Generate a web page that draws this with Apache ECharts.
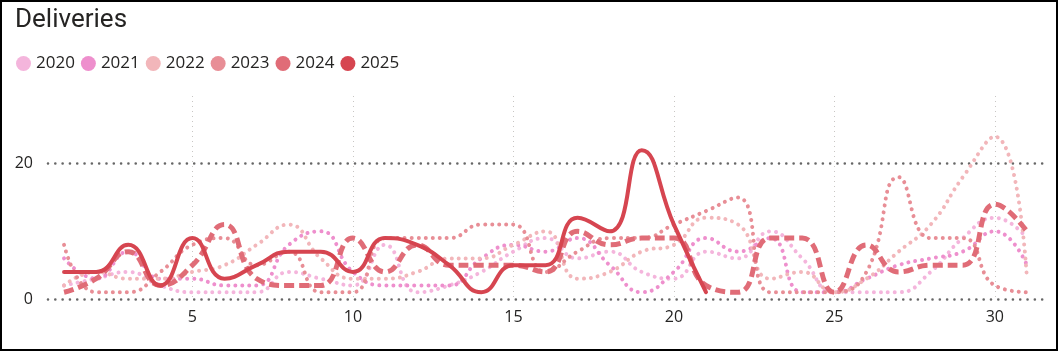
<!DOCTYPE html>
<html><head><meta charset="utf-8">
<script src="https://cdn.jsdelivr.net/npm/echarts@6/dist/echarts.min.js"></script>
<style>
html,body{margin:0;padding:0;background:#fff;}
#wrap{position:relative;width:1058px;height:351px;overflow:hidden;}
#chart{position:absolute;left:0;top:0;width:1058px;height:351px;}
#frame{position:absolute;left:0;top:0;width:1058px;height:351px;box-sizing:border-box;border:2px solid #000;pointer-events:none;}
</style></head><body>
<div id="wrap"><div id="chart"></div><div id="frame"></div></div>
<script>
// ---- data ----
const days = [1,2,3,4,5,6,7,8,9,10,11,12,13,14,15,16,17,18,19,20,21,22,23,24,25,26,27,28,29,30,31];
const xTicks = [5,10,15,20,25,30];
const yTicks = [0,20];
const years = ['2020','2021','2022','2023','2024','2025'];
const v2020 = [2,3,4,2,1,1,1,4,3,2,8,1,2,4,7,9,6,7,4,3,7,6,10,6,1,1,1,4,9,12,9];
const v2021 = [6,3,7,3,3,2,2,8,10,4,2,2,2,6,8,7,9,5,1,4,9,7,9,1,1,3,5,6,7,10,5];
const v2022 = [2,4,3,3,4,5,8,11,6,3,3,4,6,6,8,10,3,4,7,8,12,11,3,4,1,3,7,11,18,24,3];
const v2023 = [8,1,1,4,8,9,5,7,1,1,9,9,9,11,11,4,7,9,9,11,13,15,1,1,1,4,18,9,9,2,1];
const v2024 = [1,3,7,2,5,11,3,2,2,9,4,8,5,5,5,4,10,8,9,9,2,1,9,9,1,8,4,5,5,14,10];
const v2025 = [4,4,8,2,9,3,5,7,7,4,9,8,5,1,5,5,12,10,22,11,1];
const values = [v2020, v2021, v2022, v2023, v2024, v2025];

// ---- styles ----
const colors = ['#F4B5DC','#EE8FCD','#F2B6BA','#E88E96','#E06C77','#D64550'];
const dotted = {width:4, type:[0.01,7], cap:'round'};
const dashed = {width:5, type:[10,5], cap:'butt'};
const solid = {width:4, type:'solid', cap:'round'};
const lineStyles = [dotted, dotted, dotted, dotted, dashed, solid];
const FONT = '"Open Sans", "Noto Sans", sans-serif';

const chart = echarts.init(document.getElementById('chart'), null, {renderer:'canvas'});
const series = years.map((y, i) => ({
  name: y,
  type: 'line',
  smooth: 0.5,
  symbol: 'none',
  color: colors[i],
  lineStyle: Object.assign({color: colors[i]}, lineStyles[i]),
  data: values[i].map((v, k) => [days[k], v]),
  z: 2 + i,
  emphasis: {disabled: true}
}));

chart.setOption({
  animation: false,
  backgroundColor: '#fff',
  title: {
    text: 'Deliveries', left: 15, top: 7, padding: 0,
    textStyle: {fontFamily: 'Roboto, "DejaVu Sans", sans-serif', fontSize: 26, fontWeight: 'normal', color: '#252423'}
  },
  legend: {
    left: 16, top: 55, padding: 0, icon: 'circle', itemWidth: 15, itemHeight: 15, itemGap: 6,
    data: years,
    textStyle: {fontFamily: FONT, fontSize: 17, color: '#252423'}
  },
  grid: {left: 48, right: 15, top: 96, bottom: 52, containLabel: false},
  xAxis: {
    type: 'value', min: 0.5, max: 31.5,
    axisLine: {show: false}, axisTick: {show: false, customValues: xTicks},
    axisLabel: {customValues: xTicks, margin: 10,
      fontFamily: FONT, fontSize: 16, color: '#252423'},
    splitLine: {show: true, customValues: xTicks,
      lineStyle: {color: '#C8C6C4', width: 1, type: [1, 4]}}
  },
  yAxis: {
    type: 'value', min: 0, max: 30, interval: 20,
    axisLine: {show: false}, axisTick: {show: false},
    axisLabel: {showMaxLabel: false, margin: 15, fontFamily: FONT, fontSize: 16, color: '#252423'},
    splitLine: {show: true, showMaxLine: false,
      lineStyle: {color: '#666666', width: 2.6, type: [0.01, 7.3], cap: 'round'}}
  },
  series: series
});
</script>
</body></html>
